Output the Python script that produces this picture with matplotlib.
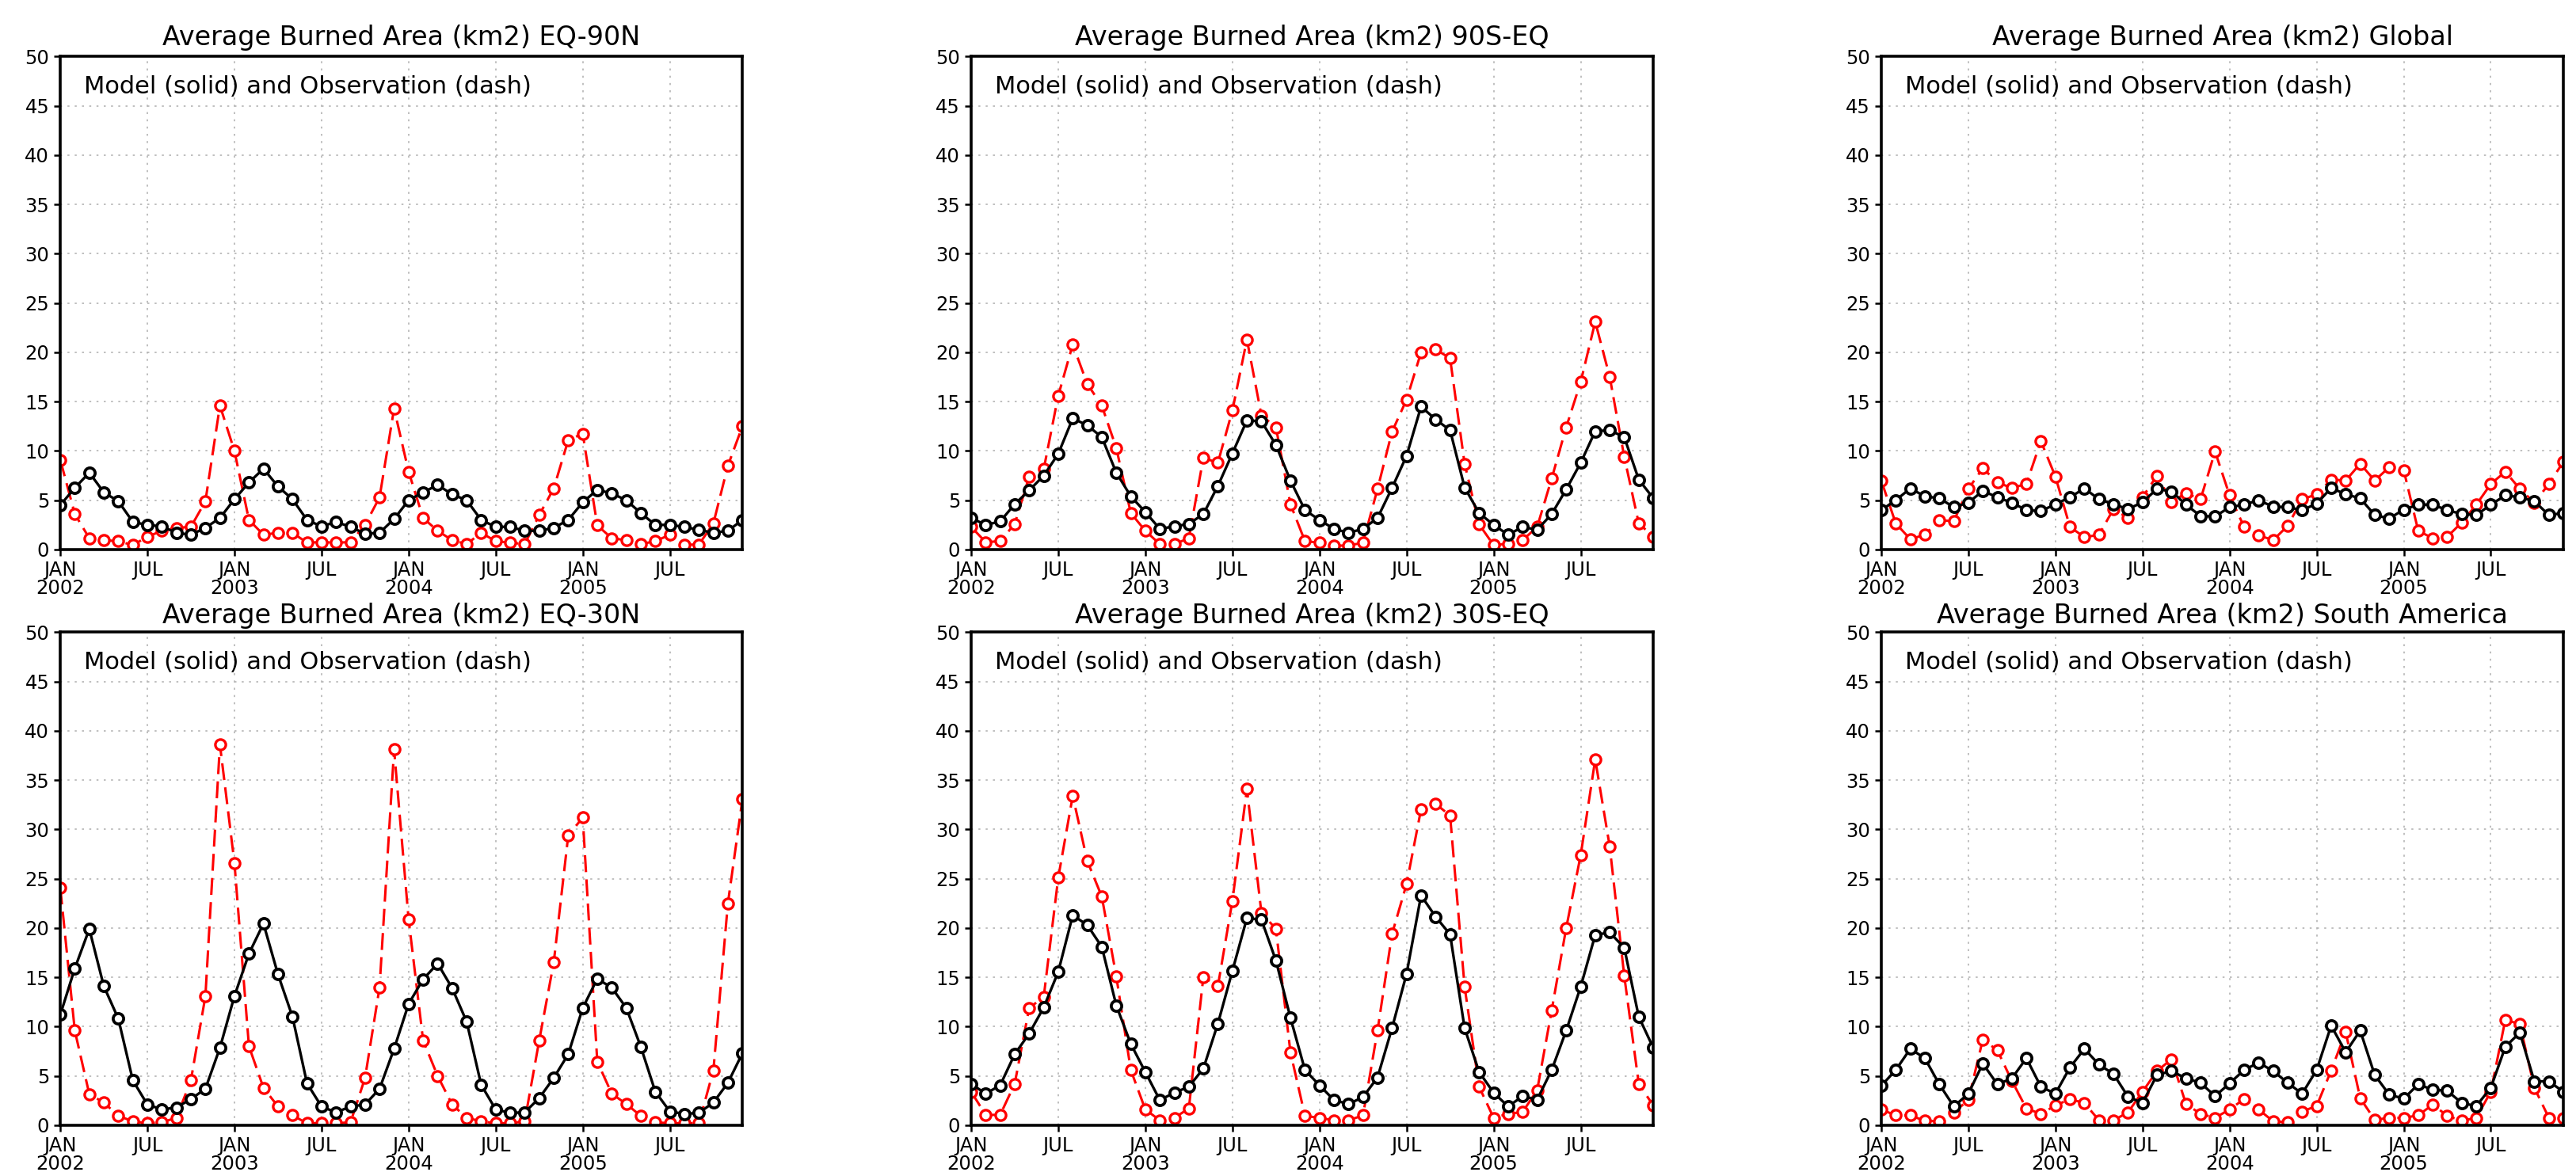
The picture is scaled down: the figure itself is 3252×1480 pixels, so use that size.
import matplotlib
matplotlib.use('Agg')
import matplotlib.pyplot as plt

# monthly values Jan 2002 .. Dec 2005
months = list(range(48))
tick_pos = [0, 6, 12, 18, 24, 30, 36, 42]
tick_labels = ['JAN\n2002', 'JUL', 'JAN\n2003', 'JUL', 'JAN\n2004', 'JUL', 'JAN\n2005', 'JUL']

titles = ['Average Burned Area (km2) EQ-90N', 'Average Burned Area (km2) 90S-EQ',
          'Average Burned Area (km2) Global', 'Average Burned Area (km2) EQ-30N',
          'Average Burned Area (km2) 30S-EQ', 'Average Burned Area (km2) South America']

# EQ-90N
model_eq90n = [4.5, 6.25, 7.8, 5.8, 4.9, 2.8, 2.5, 2.35, 1.7, 1.5, 2.2, 3.2,
               5.1, 6.8, 8.2, 6.4, 5.1, 3.0, 2.35, 2.8, 2.3, 1.6, 1.7, 3.1,
               5.0, 5.8, 6.55, 5.6, 5.0, 3.0, 2.3, 2.3, 1.9, 1.9, 2.2, 3.0,
               4.8, 6.05, 5.7, 5.0, 3.7, 2.5, 2.5, 2.3, 2.0, 1.7, 1.9, 3.0]
obs_eq90n = [9.1, 3.6, 1.15, 0.95, 0.85, 0.45, 1.3, 1.9, 2.2, 2.3, 4.9, 14.6,
             10.0, 3.0, 1.5, 1.7, 1.7, 0.7, 0.75, 0.7, 0.75, 2.5, 5.3, 14.3,
             7.9, 3.2, 1.9, 0.95, 0.55, 1.7, 0.85, 0.7, 0.55, 3.5, 6.2, 11.1,
             11.75, 2.45, 1.15, 0.95, 0.55, 0.85, 1.5, 0.5, 0.5, 2.65, 8.5, 12.5]

# 90S-EQ
model_90seq = [3.2, 2.5, 2.85, 4.6, 6.0, 7.5, 9.7, 13.3, 12.6, 11.4, 7.8, 5.4,
               3.8, 2.1, 2.35, 2.6, 3.6, 6.45, 9.75, 13.1, 13.0, 10.6, 7.0, 4.0,
               3.0, 2.1, 1.7, 2.1, 3.2, 6.25, 9.5, 14.5, 13.2, 12.1, 6.3, 3.7,
               2.5, 1.5, 2.3, 2.0, 3.6, 6.1, 8.8, 12.0, 12.1, 11.4, 7.1, 5.2]
obs_90seq = [2.3, 0.75, 0.85, 2.6, 7.4, 8.15, 15.6, 20.8, 16.8, 14.6, 10.3, 3.7,
             1.9, 0.55, 0.55, 1.15, 9.3, 8.8, 14.1, 21.3, 13.6, 12.4, 4.6, 0.85,
             0.7, 0.4, 0.4, 0.7, 6.15, 11.95, 15.2, 20.0, 20.3, 19.4, 8.7, 2.55,
             0.45, 0.6, 0.95, 2.3, 7.2, 12.4, 17.0, 23.1, 17.5, 9.4, 2.65, 1.3]

# Global
model_glob = [4.0, 5.0, 6.2, 5.4, 5.2, 4.3, 4.75, 5.95, 5.3, 4.75, 4.0, 3.9,
              4.6, 5.3, 6.2, 5.1, 4.6, 4.1, 4.8, 6.15, 5.9, 4.55, 3.4, 3.35,
              4.3, 4.55, 5.0, 4.35, 4.3, 4.0, 4.65, 6.25, 5.6, 5.2, 3.5, 3.15,
              4.05, 4.55, 4.55, 4.0, 3.6, 3.5, 4.55, 5.5, 5.3, 4.9, 3.5, 3.7]
obs_glob = [7.0, 2.65, 1.05, 1.5, 2.95, 2.9, 6.15, 8.25, 6.8, 6.25, 6.65, 11.0,
            7.4, 2.3, 1.25, 1.5, 4.1, 3.2, 5.3, 7.5, 4.85, 5.7, 5.1, 9.95,
            5.5, 2.3, 1.45, 0.95, 2.4, 5.1, 5.6, 7.1, 7.0, 8.7, 7.0, 8.35,
            8.05, 1.9, 1.15, 1.3, 2.75, 4.55, 6.65, 7.9, 6.15, 4.75, 6.65, 8.9]

# EQ-30N
model_eq30n = [11.2, 15.9, 19.9, 14.1, 10.8, 4.55, 2.1, 1.6, 1.8, 2.65, 3.7, 7.85,
               13.1, 17.4, 20.45, 15.3, 11.0, 4.25, 1.9, 1.3, 1.9, 2.1, 3.7, 7.75,
               12.3, 14.8, 16.4, 13.9, 10.5, 4.1, 1.6, 1.25, 1.3, 2.75, 4.8, 7.2,
               11.9, 14.85, 13.95, 11.9, 7.95, 3.4, 1.4, 1.15, 1.25, 2.3, 4.3, 7.3]
obs_eq30n = [24.1, 9.6, 3.15, 2.3, 0.95, 0.4, 0.2, 0.3, 0.75, 4.55, 13.1, 38.6,
             26.6, 8.0, 3.8, 1.9, 1.0, 0.2, 0.2, 0.2, 0.3, 4.8, 14.0, 38.1,
             20.9, 8.6, 5.0, 2.1, 0.75, 0.4, 0.2, 0.2, 0.4, 8.6, 16.5, 29.4,
             31.2, 6.45, 3.2, 2.15, 0.95, 0.3, 0.2, 0.2, 0.2, 5.55, 22.5, 33.05]

# 30S-EQ
model_30seq = [4.2, 3.2, 4.05, 7.2, 9.3, 11.95, 15.55, 21.3, 20.3, 18.1, 12.15, 8.25,
               5.4, 2.55, 3.3, 3.9, 5.75, 10.3, 15.65, 21.0, 20.85, 16.7, 10.9, 5.6,
               4.05, 2.55, 2.15, 2.85, 4.85, 9.85, 15.35, 23.3, 21.15, 19.35, 9.85, 5.4,
               3.3, 1.9, 2.95, 2.6, 5.6, 9.6, 14.05, 19.3, 19.55, 18.0, 11.0, 7.85]
obs_30seq = [3.4, 1.05, 1.05, 4.2, 11.9, 13.0, 25.1, 33.4, 26.8, 23.2, 15.1, 5.6,
             1.6, 0.5, 0.75, 1.7, 15.05, 14.1, 22.75, 34.1, 21.55, 19.9, 7.4, 0.95,
             0.75, 0.5, 0.5, 1.0, 9.6, 19.4, 24.45, 32.05, 32.6, 31.4, 14.05, 3.9,
             0.75, 1.15, 1.35, 3.55, 11.65, 20.0, 27.4, 37.1, 28.25, 15.15, 4.2, 2.0]

# South America
model_sam = [4.0, 5.6, 7.75, 6.8, 4.15, 1.9, 3.2, 6.25, 4.15, 4.75, 6.8, 3.9,
             3.2, 5.85, 7.75, 6.15, 5.2, 2.9, 2.25, 5.1, 5.5, 4.75, 4.3, 2.95,
             4.25, 5.6, 6.35, 5.5, 4.3, 3.2, 5.6, 10.1, 7.4, 9.6, 5.1, 3.1,
             2.7, 4.15, 3.6, 3.5, 2.25, 1.95, 3.8, 7.95, 9.4, 4.45, 4.45, 3.4]
obs_sam = [1.6, 1.0, 1.0, 0.45, 0.4, 1.3, 2.55, 8.7, 7.6, 4.5, 1.7, 1.15,
           2.0, 2.65, 2.25, 0.5, 0.5, 1.3, 3.4, 5.5, 6.7, 2.15, 1.15, 0.75,
           1.6, 2.65, 1.6, 0.4, 0.3, 1.4, 1.95, 5.55, 9.45, 2.75, 0.55, 0.75,
           0.75, 1.0, 2.1, 0.95, 0.45, 0.75, 3.4, 10.7, 10.25, 3.8, 0.75, 0.75]

models = [model_eq90n, model_90seq, model_glob, model_eq30n, model_30seq, model_sam]
obss = [obs_eq90n, obs_90seq, obs_glob, obs_eq30n, obs_30seq, obs_sam]

plt.rcParams['font.family'] = ['DejaVu Sans']

fig = plt.figure(figsize=(32.52, 14.8), dpi=100)

lefts = [0.0234, 0.3770, 0.7303]
bottoms = [0.5311, 0.0399]
w, h = 0.2648, 0.4207

for i in range(6):
    ax = fig.add_axes([lefts[i % 3], bottoms[i // 3], w, h])

    ax.plot(months, obss[i], color='red', lw=2.2, dashes=(7, 3),
            marker='o', ms=9.5, mew=2.4, mfc='white', mec='red', zorder=3)
    ax.plot(months, models[i], color='black', lw=2.4,
            marker='o', ms=9.5, mew=2.7, mfc='white', mec='black', zorder=4)

    ax.set_xlim(0, 47)
    ax.set_ylim(0, 50)
    ax.set_yticks(range(0, 51, 5))
    ax.set_xticks(tick_pos)
    ax.set_xticklabels(tick_labels, linespacing=0.95)
    ax.tick_params(axis='both', direction='out', length=6, width=1.8,
                   labelsize=17.5, pad=4)
    ax.grid(True, color='#b4b4b4', ls=(0, (1.5, 4)), lw=1.2)
    for s in ax.spines.values():
        s.set_linewidth(2.6)
        s.set_zorder(5)

    ax.set_title(titles[i], fontsize=24, pad=10 if i < 3 else 8)
    ax.text(0.035, 0.9246, 'Model (solid) and Observation (dash)',
            transform=ax.transAxes, fontsize=22, va='baseline', ha='left')

fig.savefig('out.png', dpi=100)
